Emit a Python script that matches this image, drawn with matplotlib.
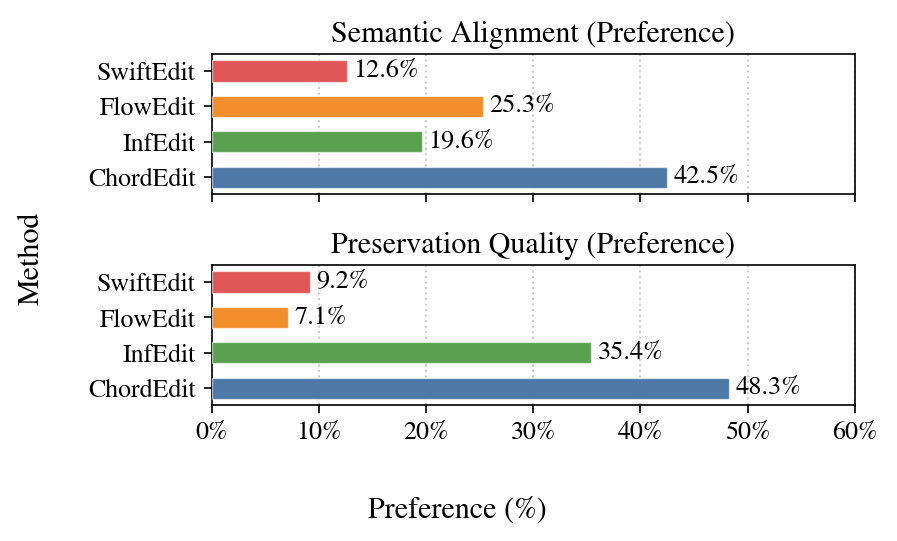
import matplotlib
matplotlib.use("Agg")
import matplotlib.pyplot as plt
from matplotlib.ticker import FuncFormatter

plt.rcParams['font.family'] = ['STIXGeneral', 'Liberation Serif', 'DejaVu Serif']
plt.rcParams['mathtext.fontset'] = 'stix'

methods = ["ChordEdit", "InfEdit", "FlowEdit", "SwiftEdit"]
semantic = [42.5, 19.6, 25.3, 12.6]
preservation = [48.3, 35.4, 7.1, 9.2]
colors = ["#4E79A7", "#59A14F", "#F28E2B", "#E15759"]
titles = ["Semantic Alignment (Preference)", "Preservation Quality (Preference)"]
xticks = [0, 10, 20, 30, 40, 50, 60]

fig, axes = plt.subplots(2, 1, figsize=(5.98, 3.607), dpi=150, sharex=True)
fig.subplots_adjust(left=0.236, right=0.953, top=0.900, bottom=0.251, hspace=0.507)

for ax, vals, title in zip(axes, [semantic, preservation], titles):
    ax.barh(methods, vals, height=0.6, color=colors, edgecolor=(1, 1, 1, 0.6),
            linewidth=0.6, zorder=3)
    for i, v in enumerate(vals):
        ax.text(v + 0.6, i, f"{v:.1f}%", va='center', ha='left', fontsize=12.6, zorder=4)
    ax.set_title(title, fontsize=14.4, pad=6)
    ax.grid(axis='x', linestyle=':', color='#cccccc', linewidth=1.0, zorder=0)
    ax.set_axisbelow(True)
    ax.tick_params(axis='both', labelsize=12.4, direction='out', length=4)
    ax.set_xlim(0, 60)
    ax.set_xticks(xticks)

axes[1].xaxis.set_major_formatter(FuncFormatter(lambda x, p: f"{int(x)}%"))
fig.supylabel("Method", fontsize=14.4, x=0.02, y=0.523)
fig.supxlabel("Preference (%)", fontsize=14.4, x=0.51, y=0.03)

fig.savefig("out.png", dpi=150)
